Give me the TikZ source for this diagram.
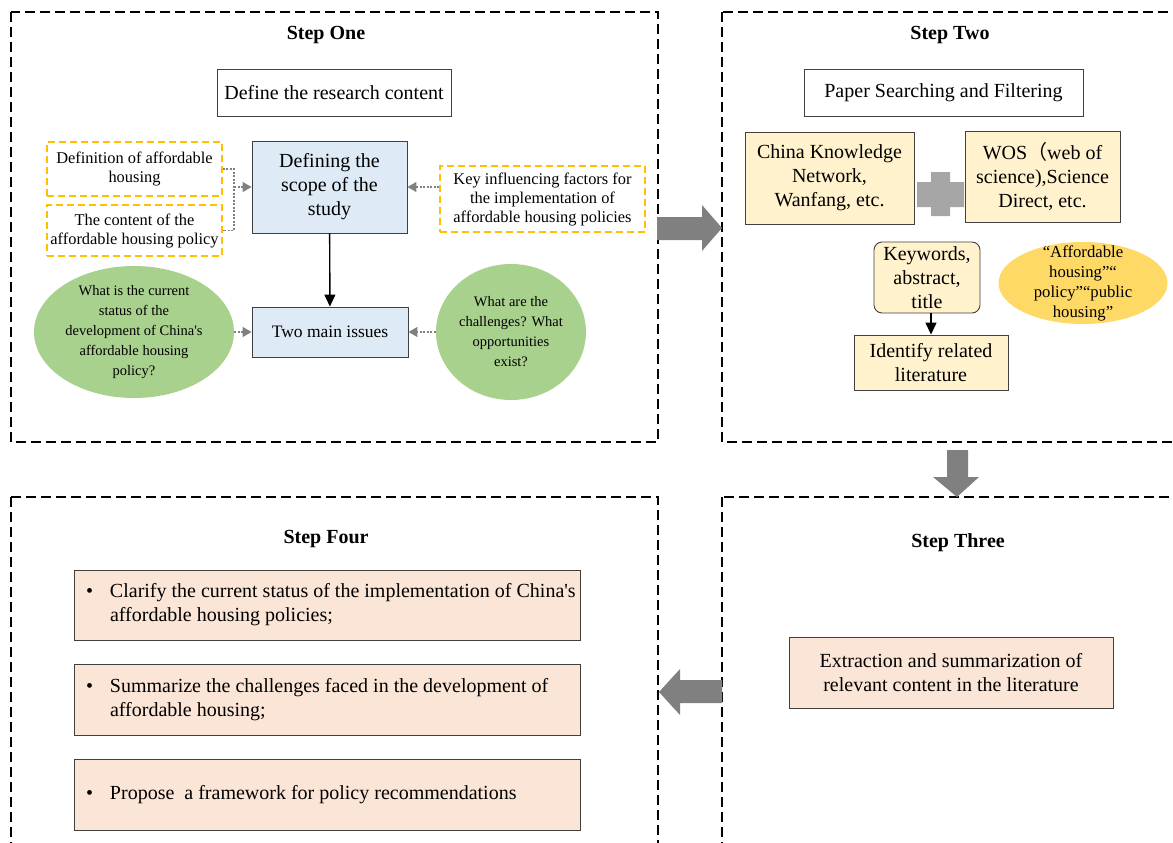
\documentclass[tikz,border=0pt]{standalone}
\usepackage{fontspec}
\setmainfont{Liberation Serif}
\newfontfamily\cjk{Noto Sans CJK SC}
\usepackage{tikz}
\usetikzlibrary{arrows.meta,shapes.geometric}

\definecolor{boxblue}{HTML}{DEEBF7}
\definecolor{boxgreen}{HTML}{A9D18E}
\definecolor{boxcream}{HTML}{FFF2CC}
\definecolor{boxgold}{HTML}{FFD966}
\definecolor{boxpeach}{HTML}{FBE5D6}
\definecolor{dashgold}{HTML}{FFC000}
\definecolor{bigarrow}{HTML}{808080}
\definecolor{plusgray}{HTML}{A6A6A6}

\newcommand{\bulline}[2]{\makebox[24pt][l]{\textbullet}\mbox{#1}\\\hspace*{24pt}#2}

\begin{document}
\begin{tikzpicture}[x=1pt, y=-1pt, font=\fontsize{20}{24}\selectfont,
	panel/.style={draw, dash pattern=on 10pt off 5pt, line width=1.1pt},
	title/.style={font=\fontsize{20}{24}\selectfont\bfseries},
	plain/.style={draw=black!75, fill=white, line width=0.9pt, inner sep=0pt, align=center},
	scopebox/.style={plain, fill=boxblue},
	factor/.style={draw=dashgold, dash pattern=on 7pt off 4pt, line width=1.3pt, inner sep=0pt, align=center, font=\fontsize{16.4}{19}\selectfont},
	issue/.style={ellipse, fill=boxgreen, inner sep=-6pt, align=center, font=\fontsize{14.5}{20}\selectfont},
	source/.style={plain, fill=boxcream},
	result/.style={plain, fill=boxpeach},
	hint/.style={draw=gray, dash pattern=on 2pt off 1.5pt, line width=1.2pt},
	hinthead/.style={-{Triangle[length=9pt, width=10pt]}},
	flow/.style={line width=1.4pt, -{Triangle[length=12pt, width=11pt]}},
	bigarr/.style={fill=bigarrow}]
	\path[use as bounding box, clip] (0,0) rectangle (1173,843);

	% panels
	\draw[panel] (11,12) rectangle (658,442);
	\draw[panel] (722,12) rectangle (1190,442);
	\draw[panel] (722,497) rectangle (1190,860);
	\draw[panel] (11,497) rectangle (658,860);

	\node[title] (one) at (326,35) {Step One};
	\node[title] (two) at (950,35) {Step Two};
	\node[title] (three) at (958,543) {Step Three};
	\node[title] (four) at (326,539) {Step Four};

	% step one
	\node[plain, minimum width=234, minimum height=47] (research) at (334,92.5) {Define the research content};
	\node[factor, minimum width=175, minimum height=54] (defn) at (134.5,169) {Definition of affordable\\housing};
	\node[factor, minimum width=175, minimum height=51] (content) at (134.5,230.5) {The content of the\\affordable housing policy};
	\node[scopebox, minimum width=155, minimum height=92] (scope) at (329.5,187) {Defining the\\scope of the\\study};
	\node[factor, minimum width=205, minimum height=66] (keyfac) at (542.5,199) {Key influencing factors for\\the implementation of\\affordable housing policies};
	\node[scopebox, minimum width=156, minimum height=50, font=\fontsize{17.5}{21}\selectfont] (issues) at (330,332) {Two main issues};
	\node[issue, minimum width=200, minimum height=132] (status) at (134,332) {What is the current\\status of the\\development of China\textquotesingle s\\affordable housing\\policy?};
	\node[issue, minimum width=150, minimum height=136] (challenge) at (511,332) {What are the\\challenges? What\\opportunities\\exist?};

	\coordinate (join) at (234,187);
	\draw[hint] (defn.east) -| (join) |- (content.east);
	\draw[hint, hinthead] (join) -- (scope.west);
	\draw[hint, hinthead] (scope.east -| keyfac.west) -- (scope.east);
	\draw[hint, hinthead] (status) -- (issues);
	\draw[hint, hinthead] (challenge) -- (issues);
	\draw[flow] (scope) -- (issues);

	% step two
	\node[plain, minimum width=279, minimum height=47] (search) at (943.5,92.5) {Paper Searching and Filtering};
	\node[source, minimum width=169, minimum height=92] (cnki) at (829.5,178) {China Knowledge\\Network,\\Wanfang, etc.};
	\node[source, minimum width=155, minimum height=91] (wos) at (1042.5,176.5) {WOS{\cjk （}web of\\science),Science\\Direct, etc.};
	\fill[plusgray] (917,182) rectangle (964,207) (931,172) rectangle (950,216);
	\node[source, rounded corners=8pt, minimum width=106, minimum height=71] (keyword) at (927,277.5) {Keywords,\\abstract,\\title};
	\node[ellipse, fill=boxgold, minimum width=169, minimum height=82, inner xsep=-6pt, inner ysep=-12pt, align=center, font=\fontsize{16.7}{20}\selectfont] (terms) at (1083,283) {“Affordable\\housing”“\\policy”“public\\housing”};
	\node[source, minimum width=154, minimum height=55] (identify) at (931,362.5) {Identify related\\literature};
	\draw[flow] (keyword.south -| identify) -- (identify.north);

	% step three
	\node[result, minimum width=324, minimum height=71] (extract) at (951,672.5) {Extraction and summarization of\\relevant content in the literature};

	% step four
	\node[result, minimum width=506, minimum height=70, text width=482, inner xsep=12pt, align=flush left] (clarify) at (327,605) {\bulline{Clarify the current status of the implementation of China\textquotesingle s}{affordable housing policies;}};
	\node[result, minimum width=506, minimum height=71, text width=482, inner xsep=12pt, align=flush left] (summ) at (327,699.5) {\bulline{Summarize the challenges faced in the development of}{affordable housing;}};
	\node[result, minimum width=506, minimum height=71, text width=482, inner xsep=12pt, align=flush left] (propose) at (327,794.5) {\makebox[24pt][l]{\textbullet}Propose\ \ a framework for policy recommendations};

	% block arrows between the steps
	\fill[bigarr] (657,217) -- (702,217) -- (702,205) -- (722,228) -- (702,251) -- (702,240) -- (657,240) -- cycle;
	\fill[bigarr] (947,450) -- (968,450) -- (968,477) -- (979,477) -- (957,497) -- (933,477) -- (947,477) -- cycle;
	\fill[bigarr] (722,680) -- (680,680) -- (680,669) -- (659,692) -- (680,715) -- (680,703) -- (722,703) -- cycle;
\end{tikzpicture}
\end{document}
